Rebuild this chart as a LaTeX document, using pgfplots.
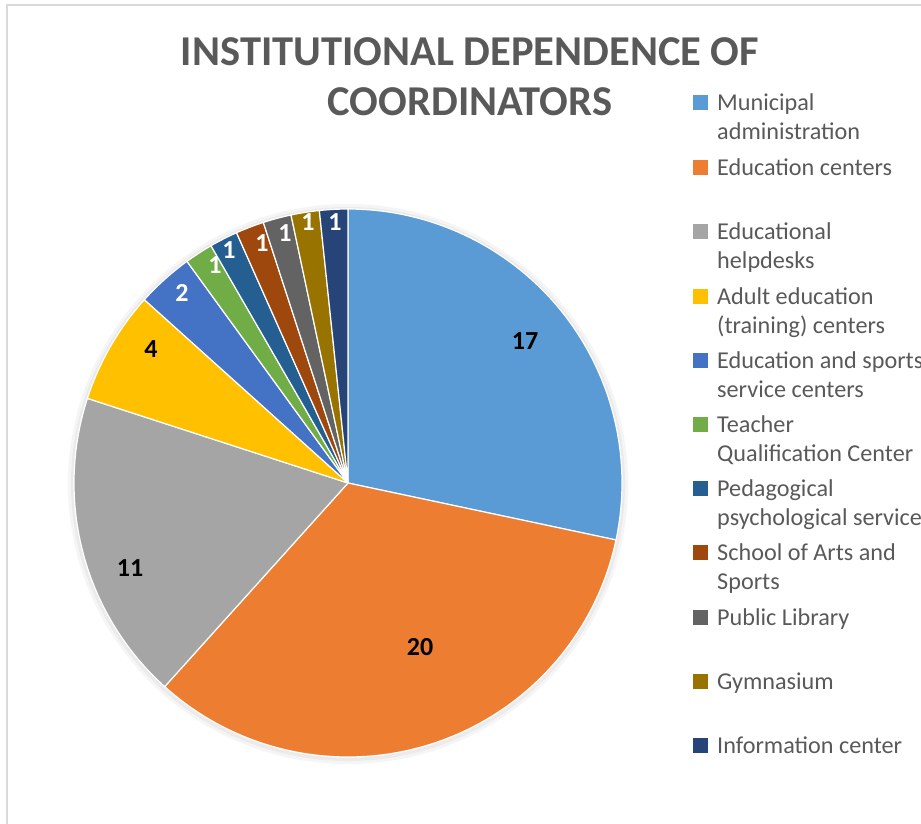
\documentclass[border=0pt]{standalone}
\usepackage{fontspec}
\setmainfont{Carlito}
\usepackage{pgfplots}
\usepackage{pgfplotstable}
\pgfplotsset{compat=1.18}
\definecolor{pc0}{HTML}{5B9BD5}
\definecolor{pc1}{HTML}{ED7D31}
\definecolor{pc2}{HTML}{A5A5A5}
\definecolor{pc3}{HTML}{FFC000}
\definecolor{pc4}{HTML}{4472C4}
\definecolor{pc5}{HTML}{70AD47}
\definecolor{pc6}{HTML}{255E91}
\definecolor{pc7}{HTML}{9E480E}
\definecolor{pc8}{HTML}{636363}
\definecolor{pc9}{HTML}{997300}
\definecolor{pc10}{HTML}{264478}
\definecolor{txt}{HTML}{595959}
\definecolor{frame}{HTML}{D9D9D9}
\pgfplotstableread{
idx value
0 17
1 20
2 11
3 4
4 2
5 1
6 1
7 1
8 1
9 1
10 1
}\piedata
\begin{document}
\begin{tikzpicture}[x=1pt,y=1pt]
\path[use as bounding box] (0,0) rectangle (921,-823);
\draw[frame, line width=2pt] (7,-840) -- (7,-5) -- (940,-5);
% soft shadow around the pie
\fill[black!4] (348,-484) circle (280pt);
\fill[black!8] (348,-484) circle (277pt);
% cumulative angles
\def\pietotal{0}
\pgfplotsforeachungrouped \i in {0,...,10}{%
  \pgfplotstablegetelem{\i}{value}\of\piedata
  \pgfmathsetmacro\pietotal{\pietotal+\pgfplotsretval}%
}
\def\cum{0}
\pgfplotsforeachungrouped \i in {0,...,10}{%
  \pgfplotstablegetelem{\i}{value}\of\piedata
  \pgfmathsetmacro\tmpa{90-(\cum/\pietotal)*360}%
  \pgfmathsetmacro\cum{\cum+\pgfplotsretval}%
  \pgfmathsetmacro\tmpb{90-(\cum/\pietotal)*360}%
  \expandafter\let\csname pa\i\endcsname\tmpa
  \expandafter\let\csname pb\i\endcsname\tmpb
}
\begin{axis}[x=274pt, y=274pt, xmin=-1, xmax=1, ymin=-1, ymax=1,
  hide axis, clip=false, anchor=origin, at={(348pt,-483pt)}]
\pgfplotsforeachungrouped \i in {0,...,10}{%
  \edef\cmd{\noexpand\addplot[fill=pc\i, draw=white, line width=1.2pt, line join=round,
    domain=\csname pb\i\endcsname:\csname pa\i\endcsname, samples=90, variable=\noexpand\t]
    ({cos(\noexpand\t)},{sin(\noexpand\t)}) -- (axis cs:0,0) -- cycle;}%
  \cmd
}
\end{axis}
% data labels
\begin{scope}[every node/.style={font=\fontsize{26}{30}\selectfont\bfseries, inner sep=0pt}]
\node[black] at (525,-341) {17};
\node[black] at (420,-647) {20};
\node[black] at (130,-568) {11};
\node[black] at (151,-349) {4};
\node[white] at (182,-293) {2};
\node[white] at (215,-265) {1};
\node[white] at (229,-250) {1};
\node[white] at (262,-243) {1};
\node[white] at (285,-233) {1};
\node[white] at (308,-222) {1};
\node[white] at (335,-222) {1};
\end{scope}
% title
\node[txt, font=\fontsize{42.5}{50}\selectfont\bfseries, anchor=base] at (470,-65) {INSTITUTIONAL DEPENDENCE OF};
\node[txt, font=\fontsize{42.5}{50}\selectfont\bfseries, anchor=base] at (470,-115) {COORDINATORS};
% legend
\begin{scope}[every node/.style={txt, font=\fontsize{24.2}{29}\selectfont, anchor=base west, inner sep=0pt}]
\def\legitem#1#2#3#4{%
  \fill[#2] (693,{-#1}) rectangle (708,{-#1+15});
  \node at (717,{-#1}) {#3};
  \node at (717,{-#1-29}) {#4};
}
\legitem{110}{pc0}{Municipal}{administration}
\legitem{175}{pc1}{Education centers}{}
\legitem{239}{pc2}{Educational}{helpdesks}
\legitem{304}{pc3}{Adult education}{(training) centers}
\legitem{368}{pc4}{Education and sports}{service centers}
\legitem{432}{pc5}{Teacher}{Qualification Center}
\legitem{496}{pc6}{Pedagogical}{psychological service}
\legitem{560}{pc7}{School of Arts and}{Sports}
\legitem{625}{pc8}{Public Library}{}
\legitem{689}{pc9}{Gymnasium}{}
\legitem{753}{pc10}{Information center}{}
\end{scope}
\end{tikzpicture}
\end{document}
